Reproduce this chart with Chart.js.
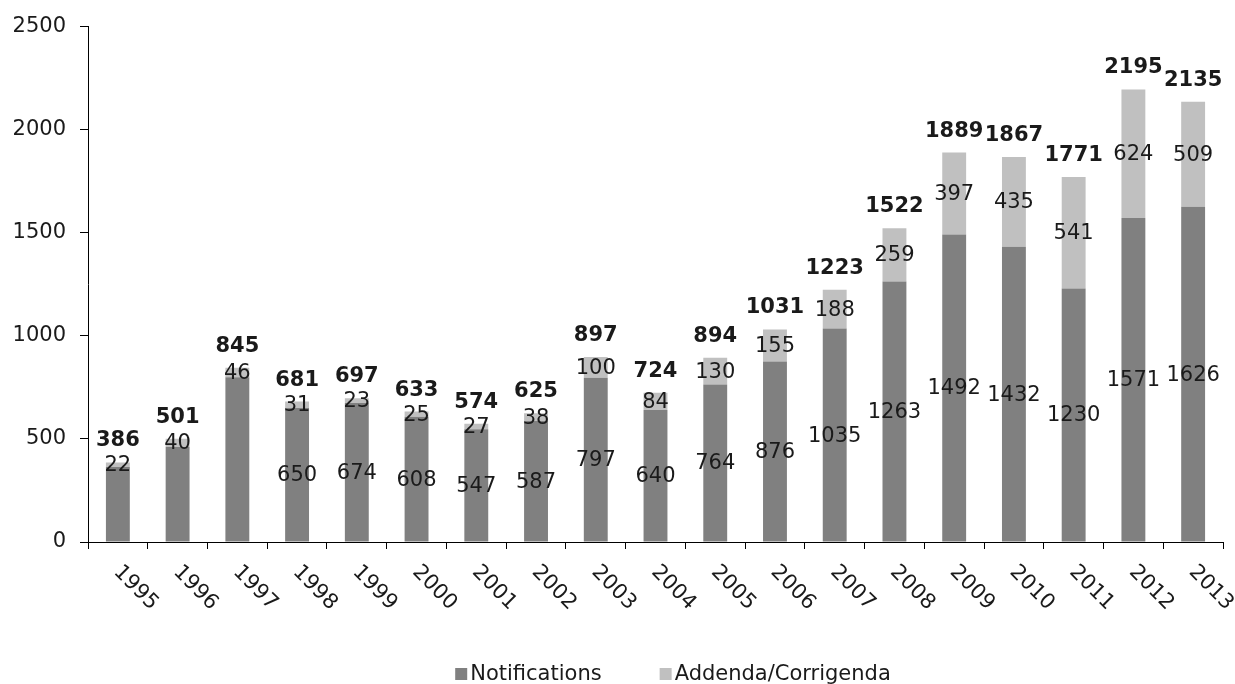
<!DOCTYPE html>
<html>
<head>
<meta charset="utf-8">
<script src="https://cdn.jsdelivr.net/npm/chart.js@4/dist/chart.umd.min.js"></script>
<style>
  html, body { margin: 0; padding: 0; background: #ffffff; }
  #wrap { width: 1235px; height: 684px; }
</style>
</head>
<body>
<div id="wrap"><canvas id="c" width="1235" height="684"></canvas></div>
<script>
const years = ['1995','1996','1997','1998','1999','2000','2001','2002','2003','2004','2005','2006','2007','2008','2009','2010','2011','2012','2013'];
const notifications = [364, 461, 799, 650, 674, 608, 547, 587, 797, 640, 764, 876, 1035, 1263, 1492, 1432, 1230, 1571, 1626];
const addenda = [22, 40, 46, 31, 23, 25, 27, 38, 100, 84, 130, 155, 188, 259, 397, 435, 541, 624, 509];
const notificationLabels = [null, null, null, '650', '674', '608', '547', '587', '797', '640', '764', '876', '1035', '1263', '1492', '1432', '1230', '1571', '1626'];
const addendaLabels = ['22', '40', '46', '31', '23', '25', '27', '38', '100', '84', '130', '155', '188', '259', '397', '435', '541', '624', '509'];
const totals = years.map((y, i) => notifications[i] + addenda[i]);
const yTicks = [0, 500, 1000, 1500, 2000, 2500];
const seriesNames = ['Notifications', 'Addenda/Corrigenda'];

const FONT = '"DejaVu Sans", Verdana, sans-serif';
const TEXT = '#1a1a1a';

const labelPlugin = {
  id: 'labelPlugin',
  afterDatasetsDraw(chart) {
    const ctx = chart.ctx;
    const lists = [notificationLabels, addendaLabels];
    ctx.save();
    ctx.fillStyle = TEXT;
    ctx.textAlign = 'center';
    ctx.textBaseline = 'middle';
    ctx.font = '21px ' + FONT;
    chart.data.datasets.forEach((ds, di) => {
      const meta = chart.getDatasetMeta(di);
      meta.data.forEach((bar, i) => {
        const txt = lists[di][i];
        if (txt == null) return;
        ctx.fillText(txt, bar.x, (bar.y + bar.base) / 2 + 1);
      });
    });
    const top = chart.getDatasetMeta(1);
    ctx.font = 'bold 21px ' + FONT;
    ctx.textBaseline = 'alphabetic';
    top.data.forEach((bar, i) => {
      ctx.fillText(String(totals[i]), bar.x, bar.y - 16);
    });
    ctx.restore();
  },
  afterDraw(chart) {
    const ctx = chart.ctx;
    const xs = chart.scales.x;
    const area = chart.chartArea;
    ctx.save();
    ctx.fillStyle = TEXT;
    ctx.font = '21px ' + FONT;
    ctx.textAlign = 'left';
    ctx.textBaseline = 'middle';
    years.forEach((y, i) => {
      const x = xs.getPixelForValue(i);
      ctx.save();
      ctx.translate(x - 1, area.bottom + 27);
      ctx.rotate(Math.PI / 4);
      ctx.fillText(y, 0, 0);
      ctx.restore();
    });
    ctx.font = '21px ' + FONT;
    ctx.textBaseline = 'middle';
    const box = 12, gapText = 3, gapItem = 58;
    const ds = chart.data.datasets;
    let total = 0;
    ds.forEach((d, k) => {
      total += box + gapText + ctx.measureText(d.label).width;
      if (k < ds.length - 1) total += gapItem;
    });
    let lx = 673 - total / 2;
    const ly = 674;
    ds.forEach((d) => {
      ctx.fillStyle = d.backgroundColor;
      ctx.fillRect(lx, ly - box / 2, box, box);
      lx += box + gapText;
      ctx.fillStyle = TEXT;
      ctx.textAlign = 'left';
      ctx.fillText(d.label, lx, ly + 1);
      lx += ctx.measureText(d.label).width + gapItem;
    });
    ctx.restore();
  }
};

new Chart(document.getElementById('c'), {
  type: 'bar',
  data: {
    labels: years,
    datasets: [
      { label: seriesNames[0], data: notifications, backgroundColor: '#808080', borderWidth: 0, barPercentage: 0.4, categoryPercentage: 1 },
      { label: seriesNames[1], data: addenda, backgroundColor: '#c0c0c0', borderWidth: 0, barPercentage: 0.4, categoryPercentage: 1 }
    ]
  },
  options: {
    responsive: false,
    animation: false,
    devicePixelRatio: 1,
    layout: { padding: { top: 24, right: 12, left: 0, bottom: 0 } },
    plugins: {
      legend: { display: false },
      tooltip: { enabled: false },
      title: { display: false }
    },
    scales: {
      x: {
        stacked: true,
        offset: true,
        grid: { display: true, drawOnChartArea: false, drawTicks: true, tickLength: 7, color: '#000', offset: true },
        border: { display: true, color: '#000', width: 1 },
        ticks: { display: false },
        afterFit(scale) { scale.height = 142; }
      },
      y: {
        stacked: true,
        min: yTicks[0],
        max: yTicks[yTicks.length - 1],
        afterBuildTicks(scale) { scale.ticks = yTicks.map(v => ({ value: v })); },
        grid: { display: true, drawOnChartArea: false, drawTicks: true, tickLength: 8, color: '#000' },
        border: { display: true, color: '#000', width: 1 },
        ticks: { color: TEXT, padding: 14, font: { family: FONT, size: 21 }, callback: (v) => String(v) },
        afterFit(scale) { scale.width = 88; }
      }
    }
  },
  plugins: [labelPlugin]
});
</script>
</body>
</html>
